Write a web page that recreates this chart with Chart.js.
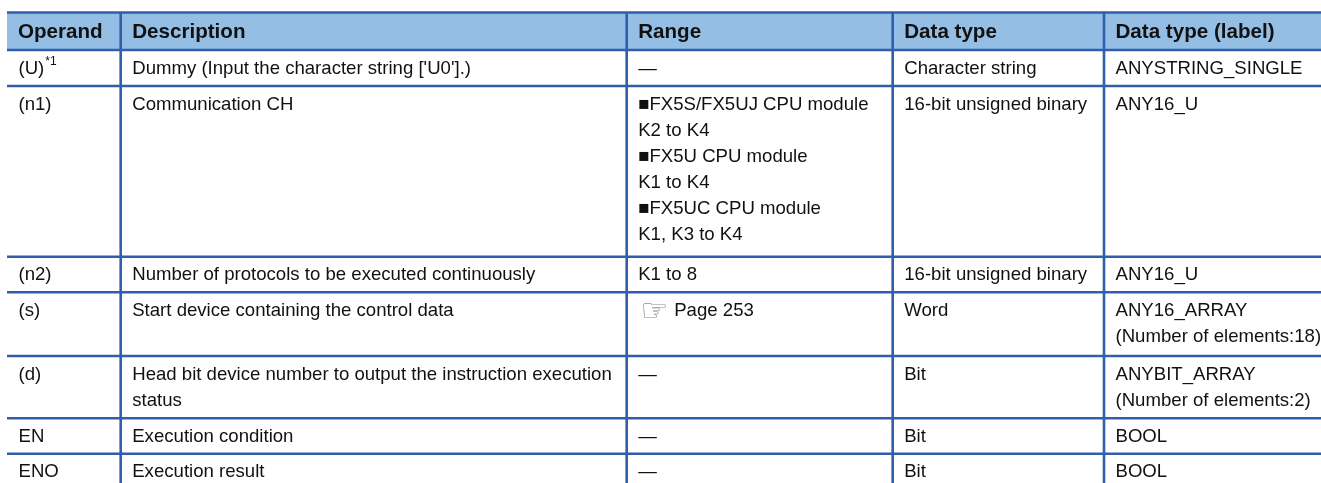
<!DOCTYPE html>
<html>
<head>
<meta charset="utf-8">
<script src="https://cdn.jsdelivr.net/npm/chart.js@4.4.1/dist/chart.umd.min.js"></script>
<style>
  html, body { margin: 0; padding: 0; background: #ffffff; }
  #wrap { width: 1321px; height: 483px; }
</style>
</head>
<body>
<div id="wrap"><canvas id="c" width="1321" height="483"></canvas></div>
<script>
// ---- data ----
const headers = ["Operand", "Description", "Range", "Data type", "Data type (label)"];
const operands = ["(U)", "(n1)", "(n2)", "(s)", "(d)", "EN", "ENO"];
const operandNotes = ["*1", "", "", "", "", "", ""];
const descriptions = [
  ["Dummy (Input the character string ['U0'].)"],
  ["Communication CH"],
  ["Number of protocols to be executed continuously"],
  ["Start device containing the control data"],
  ["Head bit device number to output the instruction execution", "status"],
  ["Execution condition"],
  ["Execution result"]
];
const ranges = [
  ["—"],
  ["■FX5S/FX5UJ CPU module", "K2 to K4", "■FX5U CPU module", "K1 to K4", "■FX5UC CPU module", "K1, K3 to K4"],
  ["K1 to 8"],
  ["☞ Page 253"],
  ["—"],
  ["—"],
  ["—"]
];
const dataTypes = [
  ["Character string"],
  ["16-bit unsigned binary"],
  ["16-bit unsigned binary"],
  ["Word"],
  ["Bit"],
  ["Bit"],
  ["Bit"]
];
const labelTypes = [
  ["ANYSTRING_SINGLE"],
  ["ANY16_U"],
  ["ANY16_U"],
  ["ANY16_ARRAY", "(Number of elements:18)"],
  ["ANYBIT_ARRAY", "(Number of elements:2)"],
  ["BOOL"],
  ["BOOL"]
];

// ---- layout (table units = px of the 1321x483 page) ----
const W = 1321, H = 483;
const colEdges = [7, 120.7, 626.7, 892.7, 1104, 1321];
const tableTop = 12.5;
const headerHeight = 37.5;
const rowHeights = [36, 170.7, 35.6, 63.7, 62.3, 35.4, 36];
const padLeft = 11.5;
const firstLineOffset = 18.5;
const lineHeight = 26;

const rowEdges = [tableTop, tableTop + headerHeight];
rowHeights.forEach(h => rowEdges.push(rowEdges[rowEdges.length - 1] + h));

const LINE = '#2f5eab';
const HEAD_FILL = '#95bee4';
const FONT = '"Liberation Sans", Arial, Helvetica, sans-serif';
const BODY_FONT = '18.6px ' + FONT;
const HEAD_FONT = 'bold 20.6px ' + FONT;

// ---- datasets: header fill + border lines ----
const datasets = [];
datasets.push({
  label: 'headerFill',
  data: [{x: colEdges[0], y: rowEdges[0]}, {x: W, y: rowEdges[0]}],
  showLine: true, pointRadius: 0, borderWidth: 0,
  borderColor: 'rgba(0,0,0,0)', backgroundColor: HEAD_FILL,
  fill: {value: rowEdges[1]}, order: 10
});
rowEdges.forEach((y, i) => {
  datasets.push({
    label: 'h' + i,
    data: [{x: colEdges[0], y: y}, {x: W, y: y}],
    showLine: true, pointRadius: 0, borderWidth: 2.6,
    borderColor: LINE, fill: false, order: 1
  });
});
colEdges.slice(1, colEdges.length - 1).forEach((x, i) => {
  datasets.push({
    label: 'v' + i,
    data: [{x: x, y: rowEdges[0]}, {x: x, y: H + 20}],
    showLine: true, pointRadius: 0, borderWidth: 2.6,
    borderColor: LINE, fill: false, order: 1
  });
});

// ---- text plugin ----
const textPlugin = {
  id: 'tableText',
  afterDatasetsDraw(chart) {
    const ctx = chart.ctx, xs = chart.scales.x, ys = chart.scales.y;
    ctx.save();
    ctx.fillStyle = '#111111';
    ctx.textBaseline = 'middle';
    ctx.textAlign = 'left';
    // header
    ctx.font = HEAD_FONT;
    const hy = ys.getPixelForValue((rowEdges[0] + rowEdges[1]) / 2 + 0.8);
    headers.forEach((t, c) => {
      ctx.fillText(t, xs.getPixelForValue(colEdges[c] + (c === 0 ? padLeft - 0.5 : padLeft)), hy);
    });
    // body
    const cols = [operands.map(o => [o]), descriptions, ranges, dataTypes, labelTypes];
    for (let r = 0; r < operands.length; r++) {
      const top = rowEdges[r + 1];
      cols.forEach((col, c) => {
        const lines = col[r];
        lines.forEach((line, li) => {
          const x = xs.getPixelForValue(colEdges[c] + padLeft);
          const y = ys.getPixelForValue(top + firstLineOffset + li * lineHeight);
          ctx.font = BODY_FONT;
          ctx.fillStyle = '#111111';
          if (line.startsWith('☞ ')) {
            // pointing-hand reference icon, scaled to ~29 units wide
            ctx.font = '22px "DejaVu Sans", sans-serif';
            const w0 = ctx.measureText('☞').width || 22;
            const size = 22 * 28 / w0;
            ctx.font = size.toFixed(1) + 'px "DejaVu Sans", sans-serif';
            ctx.fillStyle = '#8c8c8c';
            ctx.fillText('☞', x + 2, y + 2.5);
            ctx.fillStyle = '#111111';
            ctx.font = BODY_FONT;
            ctx.fillText(line.slice(2), xs.getPixelForValue(colEdges[c] + padLeft + 36), y);
          } else {
            ctx.fillText(line, x, y);
          }
          if (c === 0 && operandNotes[r]) {
            ctx.font = BODY_FONT;
            const w = ctx.measureText(line).width;
            ctx.font = '12px ' + FONT;
            ctx.fillText(operandNotes[r], x + w + 1, y - 7);
          }
        });
      });
    }
    ctx.restore();
  }
};

new Chart(document.getElementById('c'), {
  type: 'scatter',
  data: { datasets: datasets },
  options: {
    responsive: false,
    animation: false,
    events: [],
    layout: { padding: 0 },
    plugins: { legend: { display: false }, tooltip: { enabled: false } },
    scales: {
      x: { type: 'linear', display: false, min: 0, max: W },
      y: { type: 'linear', display: false, min: 0, max: H, reverse: true }
    }
  },
  plugins: [textPlugin]
});
</script>
</body>
</html>
